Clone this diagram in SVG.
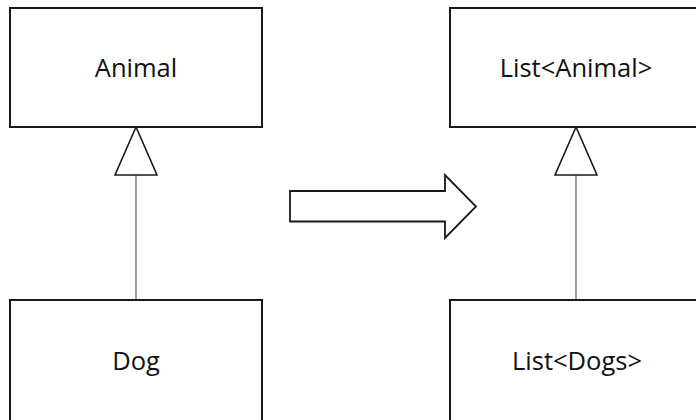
<svg xmlns="http://www.w3.org/2000/svg" width="696" height="420" viewBox="0 0 696 420">
  <style>
    .box { fill: #ffffff; stroke: #1a1a1a; stroke-width: 2; }
    .lbl { font-family: "Open Sans", "Liberation Sans", sans-serif; font-size: 25.5px; fill: #111111; text-anchor: middle; }
    .link { stroke: #666666; stroke-width: 1.3; fill: none; }
    .tri { fill: #ffffff; stroke: #1a1a1a; stroke-width: 1.6; stroke-linejoin: miter; }
    .big { fill: #ffffff; stroke: #1a1a1a; stroke-width: 1.8; stroke-linejoin: miter; }
  </style>
  <rect width="696" height="420" fill="#ffffff"/>
  <g id="connectors">
    <line class="link" x1="136" y1="175" x2="136" y2="300"/>
    <polygon class="tri" points="136,127 115,175 157,175"/>
    <line class="link" x1="576" y1="175" x2="576" y2="300"/>
    <polygon class="tri" points="576,127 555,175 597,175"/>
    <polygon class="big" points="290,191 445,191 445,175 476,206.5 445,238 445,221.5 290,221.5"/>
  </g>
  <g id="animal">
    <rect class="box" x="10" y="8" width="252" height="119"/>
    <text class="lbl" x="136" y="77">Animal</text>
  </g>
  <g id="dog">
    <rect class="box" x="10" y="300" width="252" height="130"/>
    <text class="lbl" x="136" y="370">Dog</text>
  </g>
  <g id="list-animal">
    <rect class="box" x="450" y="8" width="252" height="119"/>
    <text class="lbl" x="576" y="77">List&lt;Animal&gt;</text>
  </g>
  <g id="list-dogs">
    <rect class="box" x="450" y="300" width="252" height="130"/>
    <text class="lbl" x="577" y="370">List&lt;Dogs&gt;</text>
  </g>
</svg>
